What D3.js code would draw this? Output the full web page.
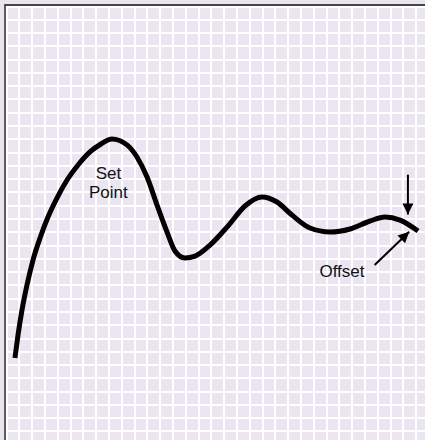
<!DOCTYPE html>
<html>
<head>
<meta charset="utf-8">
<script src="https://cdn.jsdelivr.net/npm/d3@7"></script>
<style>
  html, body { margin: 0; padding: 0; background: #e8e5ee; }
  svg { display: block; }
  text { font-family: "Liberation Sans", Arial, Helvetica, sans-serif; fill: #111; }
</style>
</head>
<body>
<svg id="chart" width="425" height="440"></svg>
<script>
// Response curve (grid units: x = time cells, y = value cells)
const timeValues = [0.70, 0.94, 1.25, 1.64, 2.11, 2.66, 3.28, 3.98, 4.77, 5.63, 6.56, 7.42, 8.28, 9.45, 10.23, 11.02, 11.80, 12.58, 13.20, 13.98, 14.77, 15.94, 17.34, 18.67, 20.00, 21.17, 22.34, 23.75, 25.31, 26.88, 28.44, 29.61, 30.78, 32.19];
const responseValues = [6.49, 8.23, 10.11, 11.99, 13.87, 15.53, 17.11, 18.54, 19.90, 21.03, 22.01, 22.61, 22.99, 22.54, 21.63, 20.12, 18.01, 15.98, 14.55, 14.02, 14.17, 15.00, 16.43, 17.94, 18.62, 18.24, 17.26, 16.28, 15.98, 16.21, 16.81, 17.11, 16.88, 16.06];

// Grid tick values
const gridX = d3.range(0, 34);
const gridY = d3.range(0, 34);

// Annotations (each label may have several lines)
const labelLines = [["Set", "Point"], ["Offset"]];
const labelX = [8.0, 26.25];
const labelY = [20.0, 12.6];
const arrowFrom = [[31.4, 20.3], [28.8, 13.5]];
const arrowTo = [[31.4, 17.3], [31.5, 16.0]];

const svg = d3.select("#chart");
const padL = 6, padT = 6, cellW = 12.8, cellH = 13.28;
const x = d3.scaleLinear().domain([0, 33]).range([padL, padL + 33 * cellW]);
const y = d3.scaleLinear().domain([0, 33]).range([padT + 33 * cellH, padT]);

// Plot background
svg.append("rect")
  .attr("x", padL).attr("y", padT)
  .attr("width", 425 - padL).attr("height", 440 - padT)
  .attr("fill", "#ebe5f2");

// Grid via axes
const gx = svg.append("g")
  .attr("transform", `translate(0,${padT})`)
  .call(d3.axisBottom(x).tickValues(gridX).tickSize(440).tickFormat(""));
gx.select(".domain").remove();
gx.selectAll("line").attr("stroke", "#ffffff").attr("stroke-width", 2).attr("shape-rendering", "crispEdges");

const gy = svg.append("g")
  .attr("transform", `translate(${padL},0)`)
  .call(d3.axisRight(y).tickValues(gridY).tickSize(425).tickFormat(""));
gy.select(".domain").remove();
gy.selectAll("line").attr("stroke", "#ffffff").attr("stroke-width", 2).attr("shape-rendering", "crispEdges");

// Frame (top and left)
svg.append("line").attr("x1", padL - 1.5).attr("x2", 425).attr("y1", padT - 1).attr("y2", padT - 1)
  .attr("stroke", "#111").attr("stroke-width", 1.6);
svg.append("line").attr("x1", padL - 1).attr("x2", padL - 1).attr("y1", padT - 1.5).attr("y2", 440)
  .attr("stroke", "#3a3a3a").attr("stroke-width", 1.6);

// Curve
const pts = timeValues.map((t, i) => [t, responseValues[i]]);
const line = d3.line().x(d => x(d[0])).y(d => y(d[1])).curve(d3.curveMonotoneX);
svg.append("path")
  .attr("d", line(pts))
  .attr("fill", "none")
  .attr("stroke", "#000")
  .attr("stroke-width", 5);

// Arrows
const defs = svg.append("defs");
defs.append("marker")
  .attr("id", "ah")
  .attr("viewBox", "0 0 10 10")
  .attr("refX", 10).attr("refY", 5)
  .attr("markerWidth", 7).attr("markerHeight", 5.5)
  .attr("markerUnits", "strokeWidth")
  .attr("orient", "auto")
  .append("path").attr("d", "M0,0 L10,5 L0,10 Z").attr("fill", "#000");

arrowFrom.forEach((f, i) => {
  const t = arrowTo[i];
  svg.append("line")
    .attr("x1", x(f[0])).attr("y1", y(f[1]))
    .attr("x2", x(t[0])).attr("y2", y(t[1]))
    .attr("stroke", "#000").attr("stroke-width", 2)
    .attr("marker-end", "url(#ah)");
});

// Labels
labelLines.forEach((lines, i) => {
  const t = svg.append("text")
    .attr("x", x(labelX[i])).attr("y", y(labelY[i]))
    .attr("text-anchor", "middle")
    .attr("font-size", 17);
  lines.forEach((s, j) => {
    t.append("tspan")
      .attr("x", x(labelX[i]))
      .attr("dy", j === 0 ? 0 : 19.5)
      .text(s);
  });
});
</script>
</body>
</html>
